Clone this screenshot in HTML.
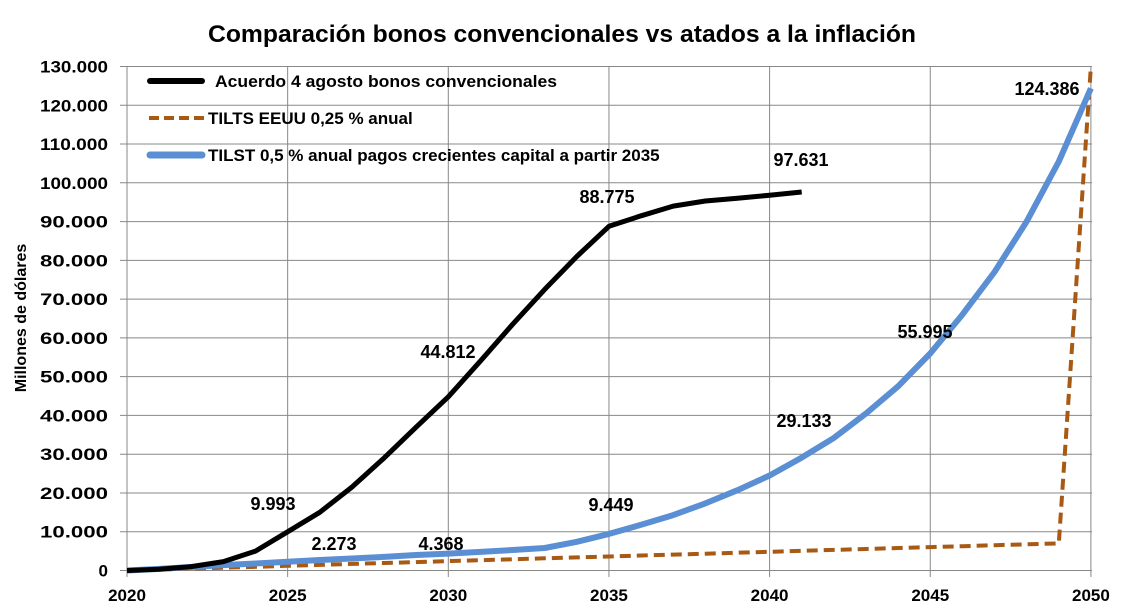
<!DOCTYPE html>
<html><head><meta charset="utf-8"><style>
html,body{margin:0;padding:0;background:#fff;}
svg text{font-family:"Liberation Sans",Arial,sans-serif;font-weight:bold;}
</style></head><body>
<svg id="s" width="1127" height="610" xmlns="http://www.w3.org/2000/svg"></svg>
<script>
const s=document.getElementById('s');
const X=y=>127+(y-2020)*32.13, Y=v=>570.5-v*0.003877;
let h='';
h+=`<text x="562" y="42" font-size="24" text-anchor="middle" textLength="708" lengthAdjust="spacingAndGlyphs">Comparación bonos convencionales vs atados a la inflación</text>`;
for(let i=0;i<=13;i++){const y=Y(i*10000);h+=`<line x1="120" x2="1092" y1="${y}" y2="${y}" stroke="#888" stroke-width="1"/>`;
h+=`<text x="108" y="${y+6}" font-size="17" text-anchor="end" ${i?'textLength="68" lengthAdjust="spacingAndGlyphs"':''}>${i==0?'0':(i*10)+'.000'}</text>`;}
for(let i=0;i<=6;i++){const x=X(2020+5*i);h+=`<line x1="${x}" x2="${x}" y1="${Y(130000)}" y2="577" stroke="#888" stroke-width="1"/>`;
h+=`<text x="${x}" y="601" font-size="17" text-anchor="middle">${2020+5*i}</text>`;}
h+=`<text transform="translate(26,318) rotate(-90)" font-size="16" text-anchor="middle">Millones de dólares</text>`;
const pl=(d,sx=2020)=>d.map((v,i)=>X(sx+i).toFixed(1)+','+Y(v).toFixed(1)).join(' ');
const black=[0,300,1000,2300,5000,9993,15000,21500,29000,37000,44812,54000,63500,72500,81000,88775,91500,94000,95300,96000,96800,97631];
const blue=[0,400,900,1400,1800,2273,2700,3100,3500,4000,4368,4800,5300,5800,7400,9449,11800,14300,17300,20700,24500,29133,34200,40500,47500,55995,66000,77000,90000,105500,124386];
let org=[];for(let i=0;i<=29;i++)org.push(i*7000/29);org.push(130000);
h+=`<polyline points="${pl(org)}" fill="none" stroke="#a85a14" stroke-width="4" stroke-dasharray="11,6"/>`;
h+=`<polyline points="${pl(blue)}" fill="none" stroke="#5b8fd4" stroke-width="6" stroke-linejoin="round"/>`;
h+=`<polyline points="${pl(black)}" fill="none" stroke="#000" stroke-width="5" stroke-linejoin="round"/>`;
h+=`<line x1="150" x2="202" y1="81" y2="81" stroke="#000" stroke-width="6" stroke-linecap="round"/>`;
h+=`<text x="215" y="87" font-size="17" textLength="342" lengthAdjust="spacingAndGlyphs">Acuerdo 4 agosto bonos convencionales</text>`;
h+=`<line x1="149" x2="204" y1="118" y2="118" stroke="#a85a14" stroke-width="4" stroke-dasharray="10,5"/>`;
h+=`<text x="208" y="124" font-size="17">TILTS EEUU 0,25 % anual</text>`;
h+=`<line x1="150" x2="202" y1="155" y2="155" stroke="#5b8fd4" stroke-width="7" stroke-linecap="round"/>`;
h+=`<text x="208" y="161" font-size="17">TILST 0,5 % anual pagos crecientes capital a partir 2035</text>`;
const lab=[["97.631",801,166],["88.775",607,203],["44.812",448,358],["9.993",273,510],["2.273",334,550],["4.368",441,550],["9.449",611,511],["29.133",804,427],["55.995",925,338],["124.386",1047,95]];
lab.forEach(l=>h+=`<text x="${l[1]}" y="${l[2]}" font-size="18" text-anchor="middle">${l[0]}</text>`);
s.innerHTML=h;
</script>
</body></html>
